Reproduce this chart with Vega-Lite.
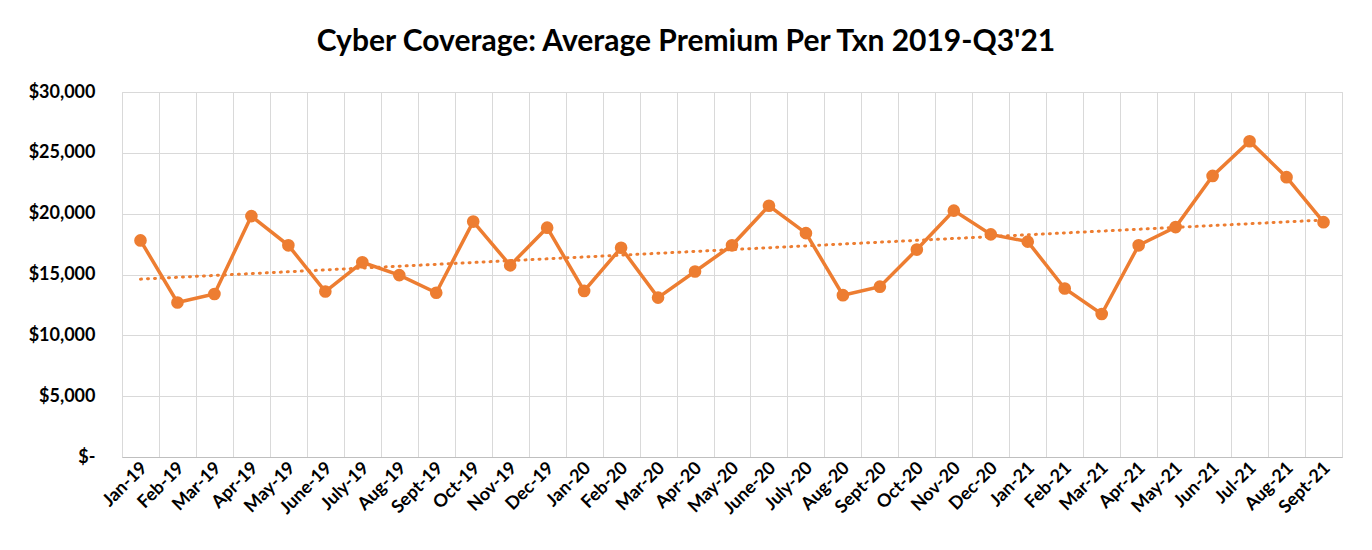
{
  "$schema": "https://vega.github.io/schema/vega-lite/v6.json",
  "autosize": "none",
  "width": 1220,
  "height": 365,
  "padding": {"left": 122, "top": 92, "right": 30, "bottom": 93},
  "background": "white",
  "title": {
    "text": "Cyber Coverage: Average Premium Per Txn 2019-Q3'21",
    "font": "Lato",
    "fontSize": 30,
    "fontWeight": "bold",
    "color": "#000000",
    "anchor": "middle",
    "dx": -46,
    "offset": 26
  },
  "config": {
    "font": "Lato",
    "view": {"stroke": "#D9D9D9", "strokeWidth": 1},
    "axis": {
      "labelFont": "Lato",
      "labelFontWeight": "bold",
      "labelFontSize": 18,
      "labelColor": "#000000",
      "gridColor": "#D9D9D9",
      "gridWidth": 1,
      "ticks": false,
      "title": null
    }
  },
  "data": {
    "values": [
      {"i": 0, "month": "Jan-19", "premium": 17800},
      {"i": 1, "month": "Feb-19", "premium": 12700},
      {"i": 2, "month": "Mar-19", "premium": 13400},
      {"i": 3, "month": "Apr-19", "premium": 19800},
      {"i": 4, "month": "May-19", "premium": 17400},
      {"i": 5, "month": "June-19", "premium": 13600},
      {"i": 6, "month": "July-19", "premium": 16000},
      {"i": 7, "month": "Aug-19", "premium": 14950},
      {"i": 8, "month": "Sept-19", "premium": 13500},
      {"i": 9, "month": "Oct-19", "premium": 19350},
      {"i": 10, "month": "Nov-19", "premium": 15750},
      {"i": 11, "month": "Dec-19", "premium": 18850},
      {"i": 12, "month": "Jan-20", "premium": 13650},
      {"i": 13, "month": "Feb-20", "premium": 17200},
      {"i": 14, "month": "Mar-20", "premium": 13100},
      {"i": 15, "month": "Apr-20", "premium": 15250},
      {"i": 16, "month": "May-20", "premium": 17400},
      {"i": 17, "month": "June-20", "premium": 20650},
      {"i": 18, "month": "July-20", "premium": 18400},
      {"i": 19, "month": "Aug-20", "premium": 13300},
      {"i": 20, "month": "Sept-20", "premium": 14000},
      {"i": 21, "month": "Oct-20", "premium": 17050},
      {"i": 22, "month": "Nov-20", "premium": 20250},
      {"i": 23, "month": "Dec-20", "premium": 18300},
      {"i": 24, "month": "Jan-21", "premium": 17700},
      {"i": 25, "month": "Feb-21", "premium": 13850},
      {"i": 26, "month": "Mar-21", "premium": 11750},
      {"i": 27, "month": "Apr-21", "premium": 17400},
      {"i": 28, "month": "May-21", "premium": 18900},
      {"i": 29, "month": "Jun-21", "premium": 23100},
      {"i": 30, "month": "Jul-21", "premium": 25950},
      {"i": 31, "month": "Aug-21", "premium": 23000},
      {"i": 32, "month": "Sept-21", "premium": 19300}
    ]
  },
  "encoding": {
    "x": {
      "field": "i",
      "type": "quantitative",
      "scale": {"domain": [-0.5, 32.5], "nice": false, "zero": false},
      "axis": {
        "values": [-0.5, 0.5, 1.5, 2.5, 3.5, 4.5, 5.5, 6.5, 7.5, 8.5, 9.5, 10.5, 11.5, 12.5, 13.5, 14.5, 15.5, 16.5, 17.5, 18.5, 19.5, 20.5, 21.5, 22.5, 23.5, 24.5, 25.5, 26.5, 27.5, 28.5, 29.5, 30.5, 31.5, 32.5],
        "labelExpr": "datum.value < 32 ? ['Jan-19','Feb-19','Mar-19','Apr-19','May-19','June-19','July-19','Aug-19','Sept-19','Oct-19','Nov-19','Dec-19','Jan-20','Feb-20','Mar-20','Apr-20','May-20','June-20','July-20','Aug-20','Sept-20','Oct-20','Nov-20','Dec-20','Jan-21','Feb-21','Mar-21','Apr-21','May-21','Jun-21','Jul-21','Aug-21','Sept-21'][datum.value + 0.5] : ''",
        "labelOffset": 22,
        "labelAngle": -45,
        "labelAlign": "right",
        "labelBaseline": "middle",
        "labelPadding": 8,
        "labelOverlap": false,
        "labelFlush": false,
        "labelBound": false,
        "grid": true,
        "domainColor": "#BFBFBF",
        "domainWidth": 1
      }
    },
    "y": {
      "field": "premium",
      "type": "quantitative",
      "scale": {"domain": [0, 30000], "nice": false},
      "axis": {
        "values": [0, 5000, 10000, 15000, 20000, 25000, 30000],
        "labelExpr": "datum.value == 0 ? '$-\u00a0\u00a0\u00a0' : '$' + format(datum.value, ',')",
        "labelPadding": 27,
        "domain": false,
        "grid": true
      }
    }
  },
  "layer": [
    {
      "transform": [{"regression": "premium", "on": "i"}],
      "mark": {"type": "line", "color": "#ED7D31", "strokeWidth": 3, "strokeDash": [1, 6], "strokeCap": "round"}
    },
    {
      "mark": {"type": "line", "color": "#ED7D31", "strokeWidth": 3.5}
    },
    {
      "mark": {"type": "point", "filled": true, "shape": "circle", "color": "#ED7D31", "size": 160, "opacity": 1}
    }
  ]
}
